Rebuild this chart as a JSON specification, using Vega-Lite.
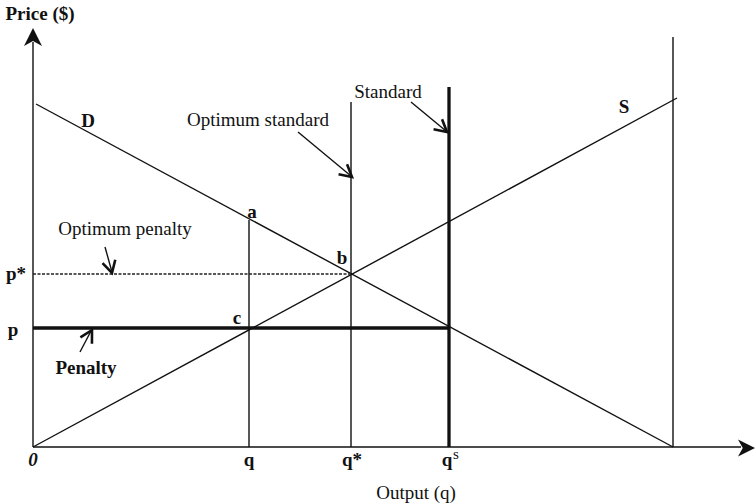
{
  "$schema": "https://vega.github.io/schema/vega-lite/v6.json",
  "width": 720,
  "height": 417,
  "autosize": {"type": "none"},
  "padding": {"left": 33, "top": 30, "right": 2, "bottom": 57},
  "background": "white",
  "config": {"view": {"stroke": null}, "font": "Liberation Serif"},
  "datasets": {
    "thin": [
      {"seg": "y axis", "x": 0, "y": 0, "x2": 0, "y2": 405},
      {"seg": "x axis", "x": 0, "y": 0, "x2": 708, "y2": 0},
      {"seg": "D", "x": 3, "y": 343, "x2": 640, "y2": 0},
      {"seg": "S", "x": 0, "y": 0, "x2": 644, "y2": 349},
      {"seg": "right bound", "x": 640, "y": 0, "x2": 640, "y2": 410},
      {"seg": "q", "x": 216, "y": 0, "x2": 216, "y2": 227},
      {"seg": "q*", "x": 318, "y": 0, "x2": 318, "y2": 345},
      {"seg": "arrow opt standard", "x": 265, "y": 315, "x2": 318, "y2": 271},
      {"seg": "arrow standard", "x": 378, "y": 345, "x2": 413, "y2": 316},
      {"seg": "arrow opt penalty", "x": 72, "y": 200, "x2": 79, "y2": 175},
      {"seg": "arrow penalty", "x": 47, "y": 95, "x2": 58, "y2": 116}
    ],
    "thick": [
      {"seg": "qs", "x": 416, "y": 0, "x2": 416, "y2": 360},
      {"seg": "p", "x": 0, "y": 119, "x2": 416, "y2": 119}
    ],
    "dashed": [
      {"seg": "p*", "x": 0, "y": 173, "x2": 318, "y2": 173}
    ],
    "boldText": [
      {"label": "Price ($)", "x": 7, "y": 433},
      {"label": "q", "x": 216, "y": -13},
      {"label": "q*", "x": 319, "y": -13},
      {"label": "q", "x": 414, "y": -13},
      {"label": "p*", "x": -17, "y": 173},
      {"label": "p", "x": -20, "y": 117},
      {"label": "D", "x": 55, "y": 326},
      {"label": "a", "x": 219, "y": 235},
      {"label": "b", "x": 309, "y": 189},
      {"label": "c", "x": 204, "y": 129},
      {"label": "S", "x": 591, "y": 340},
      {"label": "Penalty", "x": 53, "y": 79}
    ],
    "italicText": [
      {"label": "0", "x": 0, "y": -13}
    ],
    "regularText": [
      {"label": "Output (q)", "x": 383, "y": -46},
      {"label": "Optimum standard", "x": 225, "y": 327},
      {"label": "Standard", "x": 355, "y": 355},
      {"label": "Optimum penalty", "x": 92, "y": 218}
    ],
    "superText": [
      {"label": "s", "x": 423, "y": -7}
    ]
  },
  "encoding": {
    "x": {"field": "x", "type": "quantitative", "scale": {"domain": [0, 720], "nice": false, "zero": false}, "axis": null},
    "y": {"field": "y", "type": "quantitative", "scale": {"domain": [0, 417], "nice": false, "zero": false}, "axis": null}
  },
  "layer": [
    {
      "data": {"name": "thin"},
      "mark": {"type": "rule", "color": "#111", "strokeWidth": 1.4},
      "encoding": {"x2": {"field": "x2"}, "y2": {"field": "y2"}}
    },
    {
      "data": {"name": "thick"},
      "mark": {"type": "rule", "color": "#111", "strokeWidth": 3.3},
      "encoding": {"x2": {"field": "x2"}, "y2": {"field": "y2"}}
    },
    {
      "data": {"name": "dashed"},
      "mark": {"type": "rule", "color": "#222", "strokeWidth": 1.4, "strokeDash": [3, 1.5]},
      "encoding": {"x2": {"field": "x2"}, "y2": {"field": "y2"}}
    },
    {
      "data": {"values": [{"x": 0, "y": 419}]},
      "mark": {"type": "point", "shape": "M 0 0 L -1 -0.5 L -0.72 0 L -1 0.5 Z", "filled": true, "color": "#111", "size": 1296, "angle": -90, "opacity": 1}
    },
    {
      "data": {"values": [{"x": 722, "y": -1}]},
      "mark": {"type": "point", "shape": "M 0 0 L -1 -0.5 L -0.72 0 L -1 0.5 Z", "filled": true, "color": "#111", "size": 1156, "angle": 0, "opacity": 1}
    },
    {
      "data": {"values": [{"x": 319, "y": 270}]},
      "mark": {"type": "point", "shape": "M -1 -0.55 L 0 0 L -1 0.55", "filled": false, "color": "#111", "strokeWidth": 2.6, "size": 576, "angle": 40, "opacity": 1}
    },
    {
      "data": {"values": [{"x": 414, "y": 315}]},
      "mark": {"type": "point", "shape": "M -1 -0.55 L 0 0 L -1 0.55", "filled": false, "color": "#111", "strokeWidth": 2.6, "size": 576, "angle": 40, "opacity": 1}
    },
    {
      "data": {"values": [{"x": 79, "y": 174}]},
      "mark": {"type": "point", "shape": "M -1 -0.55 L 0 0 L -1 0.55", "filled": false, "color": "#111", "strokeWidth": 2.6, "size": 576, "angle": 75, "opacity": 1}
    },
    {
      "data": {"values": [{"x": 59, "y": 117}]},
      "mark": {"type": "point", "shape": "M -1 -0.55 L 0 0 L -1 0.55", "filled": false, "color": "#111", "strokeWidth": 2.6, "size": 576, "angle": -61, "opacity": 1}
    },
    {
      "data": {"name": "boldText"},
      "mark": {"type": "text", "font": "Liberation Serif", "fontSize": 19, "fontWeight": "bold", "color": "#111", "align": "center", "baseline": "middle"},
      "encoding": {"text": {"field": "label"}}
    },
    {
      "data": {"name": "italicText"},
      "mark": {"type": "text", "font": "Liberation Serif", "fontSize": 19, "fontWeight": "bold", "fontStyle": "italic", "color": "#111", "align": "center", "baseline": "middle"},
      "encoding": {"text": {"field": "label"}}
    },
    {
      "data": {"name": "regularText"},
      "mark": {"type": "text", "font": "Liberation Serif", "fontSize": 19, "color": "#111", "align": "center", "baseline": "middle"},
      "encoding": {"text": {"field": "label"}}
    },
    {
      "data": {"name": "superText"},
      "mark": {"type": "text", "font": "Liberation Serif", "fontSize": 15, "color": "#111", "align": "center", "baseline": "middle"},
      "encoding": {"text": {"field": "label"}}
    }
  ]
}
